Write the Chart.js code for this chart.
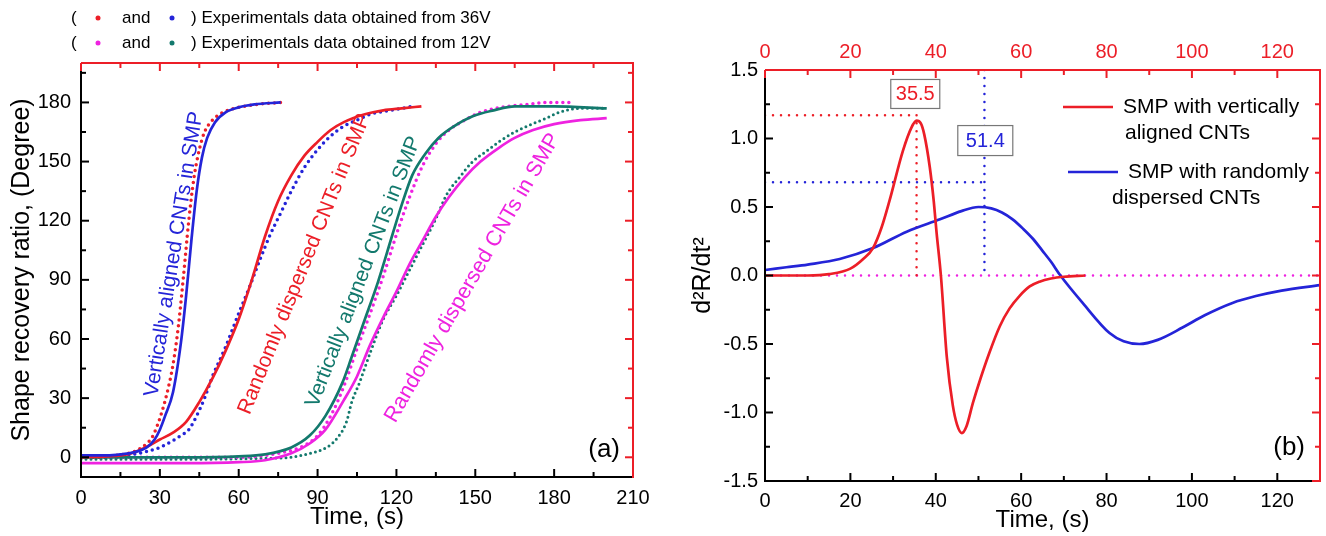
<!DOCTYPE html>
<html>
<head>
<meta charset="utf-8">
<script src="https://cdn.jsdelivr.net/npm/chart.js@4.4.1/dist/chart.umd.min.js"></script>
<style>
  body { margin: 0; background: #fff; }
  #wrap { position: relative; width: 1326px; height: 536px; }
  canvas { position: absolute; top: 0; }
  #chartA { left: 0; }
  #chartB { left: 660px; }
</style>
</head>
<body>
<div id="wrap">
  <canvas id="chartA" width="660" height="536"></canvas>
  <canvas id="chartB" width="666" height="536"></canvas>
</div>
<script>
// ---- data: [time (s), value] ----

// (a) shape recovery ratio, degree
const xTicksA = [0, 30, 60, 90, 120, 150, 180, 210];
const yTicksA = [0, 30, 60, 90, 120, 150, 180];

// 36V, vertically aligned: fit (blue line) and experiment (red dots)
const aligned36Fit = [[0,1],[10,1],[15,1.5],[20,2.5],[25,5],[28,9],[30,14],[32,21],[35,33],[38,58],[40,82],[42,110],[44,135],[46,152],[48,162],[51,170],[55,175],[60,177.5],[66,179],[76,180]];
const aligned36Exp = [[0,0],[10,0.5],[18,2],[22,4],[25,7],[27,10],[29,16],[31,24],[33,34],[35,47],[37,66],[39,92],[41,120],[43,142],[45,156],[47,165],[50,171],[54,175],[60,177.5],[67,179],[76,180]];

// 36V, randomly dispersed: fit (red line) and experiment (blue dots)
const random36Fit = [[0,0],[10,0.5],[17.5,1.5],[22,3.5],[26,6],[30,9],[35,12.5],[40,18],[45,28],[50,40],[55,54],[60,70],[65,90],[70,112],[75,130],[80,143],[85,153],[90,160],[95,166],[100,170],[108,174],[115,176],[122,177],[129.5,178]];
const random36Exp = [[0,0],[10,0],[20,1.5],[25,3],[30,5],[35,8.5],[38,11],[41,14],[44,21],[47,30],[50,41],[55,56],[60,73],[64,86],[68,100],[72,113],[76,124],[80,135],[85,147],[90,156],[95,163],[100,168],[105,171],[110,174],[118,176],[126,178]];

// 12V, vertically aligned: fit (teal line) and experiment (magenta dots)
const aligned12Fit = [[0,0],[20,0],[40,0],[60,0.5],[70,1.5],[80,5],[87,11],[93,21],[99.5,38],[103,51],[108,70],[113,89],[118.5,113],[122,128],[126,143],[131,154],[136,162],[142,168],[149,173],[157,176],[165,178],[180,178],[200,177]];
const aligned12Exp = [[0,0],[40,0],[60,0],[75,2],[85,6],[90,11],[95,21],[100,36],[105,55],[110,73],[115,92],[120,113],[125,132],[130,148],[135,159],[140,166],[146,171],[152,175],[160,177.5],[170,179],[178,180],[186,180]];

// 12V, randomly dispersed: fit (magenta line) and experiment (teal triangles)
const random12Fit = [[0,-3],[20,-3],[40,-3],[60,-2.5],[70,-1.5],[80,2],[87,7],[93,14],[100,29],[105,41],[110,57],[115,71],[120,84],[125,98],[130,110],[135,122],[140,132],[146,142],[152,150],[159,157],[165,162],[172,166],[180,169],[190,171],[200,172]];
const random12Exp = [[0,-1],[40,-1],[70,-0.5],[80,0],[87,2],[92,4],[97,9],[101,18],[103,28],[106,38],[110,53],[115,70],[120,82],[125,95],[130,108],[135,121],[139,133],[144,142],[149,150],[154,155],[159,160],[165,165],[171.6,169],[177,172],[182,175],[190,177],[200,177]];

// (b) second derivative d2R/dt2
const xTicksB = [0, 20, 40, 60, 80, 100, 120];
const yTicksB = [-1.5, -1.0, -0.5, 0, 0.5, 1.0, 1.5];

const alignedD2 = [[0,0],[10,0],[15,0.01],[20,0.05],[23,0.12],[25.3,0.2],[27.3,0.35],[29.2,0.55],[32.3,0.91],[34.3,1.08],[35.5,1.13],[36.5,1.11],[37.3,1.03],[38.6,0.79],[39.5,0.55],[40.2,0.31],[41.2,0],[42.6,-0.6],[44,-0.95],[45,-1.09],[46.1,-1.15],[47.2,-1.1],[48.7,-0.93],[50.5,-0.75],[52.6,-0.56],[55,-0.37],[57.3,-0.24],[59.6,-0.15],[62,-0.08],[64.3,-0.045],[67,-0.022],[70,-0.009],[75,0]];
const randomD2 = [[0,0.04],[5,0.06],[10,0.08],[17.5,0.12],[25.3,0.2],[33.2,0.32],[41,0.41],[46,0.47],[50,0.5],[53,0.49],[55.5,0.46],[58,0.41],[60.5,0.34],[62.7,0.27],[65,0.18],[67,0.1],[69.2,0],[74.4,-0.2],[80.7,-0.42],[84,-0.48],[87.7,-0.5],[92,-0.47],[97.8,-0.38],[103,-0.29],[109.5,-0.2],[115,-0.15],[121,-0.11],[130,-0.07]];

// guide lines marking the peaks
const peakAligned = 35.5, peakAlignedVal = 1.17;
const peakRandom = 51.4, peakRandomVal = 0.68;

// ---- styles ----
const BLUE = '#2424d8';
const RED = '#ec1e27';
const TEAL = '#13796d';
const MAGENTA = '#ee22e0';
const FONT = '"Liberation Sans", Arial, sans-serif';
Chart.defaults.font.family = FONT;

const toXY = pts => pts.map(p => ({ x: p[0], y: p[1] }));

function lineSet(pts, color) {
    return { data: toXY(pts), borderColor: color, borderWidth: 2.7, pointRadius: 0,
             showLine: true, cubicInterpolationMode: 'monotone', fill: false };
}
function dotSet(pts, color, gap, width) {
    return { data: toXY(pts), borderColor: color, borderWidth: width || 3.5, borderDash: [0, gap || 6],
             borderCapStyle: 'round', pointRadius: 0, showLine: true, cubicInterpolationMode: 'monotone', fill: false };
}
function guideSet(pts, color) {
    return { data: toXY(pts), borderColor: color, borderWidth: 2.5, borderDash: [0, 8],
             borderCapStyle: 'round', pointRadius: 0, showLine: true, fill: false };
}

function minorTicks(min, max, step, majors) {
    const out = [];
    for (let v = Math.ceil(min / step) * step; v <= max + 1e-9; v += step) {
        if (!majors.some(m => Math.abs(m - v) < 1e-6)) out.push(v);
    }
    return out;
}

// 축 테두리와 안쪽 눈금
const framePlugin = {
    id: 'frame',
    afterDatasetsDraw(chart, args, o) {
        const { ctx, chartArea: a } = chart;
        const xs = chart.scales.x, ys = chart.scales.y;
        const xMin = minorTicks(xs.min, xs.max, o.xMinorStep, o.xMajor);
        const yMin = minorTicks(ys.min, ys.max, o.yMinorStep, o.yMajor);
        const seg = (x1, y1, x2, y2) => { ctx.beginPath(); ctx.moveTo(x1, y1); ctx.lineTo(x2, y2); ctx.stroke(); };
        ctx.save();
        ctx.lineWidth = 2;
        // bottom / left in black
        ctx.strokeStyle = '#000';
        o.xMajor.forEach(v => { const p = xs.getPixelForValue(v); seg(p, a.bottom, p, a.bottom - 8); });
        xMin.forEach(v => { const p = xs.getPixelForValue(v); seg(p, a.bottom, p, a.bottom - 5); });
        o.yMajor.forEach(v => { const p = ys.getPixelForValue(v); seg(a.left, p, a.left + 8, p); });
        yMin.forEach(v => { const p = ys.getPixelForValue(v); seg(a.left, p, a.left + 5, p); });
        seg(a.left - 1, a.bottom, a.right, a.bottom);
        seg(a.left, a.top, a.left, a.bottom + 1);
        // top / right in red
        ctx.strokeStyle = RED;
        o.xMajor.forEach(v => { const p = xs.getPixelForValue(v); seg(p, a.top, p, a.top + 8); });
        xMin.forEach(v => { const p = xs.getPixelForValue(v); seg(p, a.top, p, a.top + 5); });
        o.yMajor.forEach(v => { const p = ys.getPixelForValue(v); seg(a.right, p, a.right - 8, p); });
        yMin.forEach(v => { const p = ys.getPixelForValue(v); seg(a.right, p, a.right - 5, p); });
        seg(a.left, a.top, a.right + 1, a.top);
        seg(a.right, a.top, a.right, a.bottom + 1);
        ctx.restore();
    }
};

function hiddenAxis(position, min, max, size) {
    return {
        type: 'linear', position: position, min: min, max: max,
        grid: { display: false }, border: { display: false },
        ticks: { display: false },
        afterFit: sc => { if (sc.isHorizontal()) sc.height = size; else sc.width = size; }
    };
}

// ---------------- chart (a) ----------------
const notesA = [
    { text: 'Vertically aligned CNTs in SMP', color: BLUE, size: 21, x: 35.4, y: 103, angle: -81 },
    { text: 'Randomly dispersed CNTs in SMP', color: RED, size: 21, x: 85, y: 98, angle: -68 },
    { text: 'Vertically aligned CNTs in SMP', color: TEAL, size: 21, x: 107.5, y: 94, angle: -69 },
    { text: 'Randomly dispersed CNTs in SMP', color: MAGENTA, size: 21.5, x: 149, y: 91, angle: -60 }
];
const headerRows = [
    { y: 18, c1: RED, c2: BLUE, text: ') Experimentals data obtained from 36V' },
    { y: 43, c1: MAGENTA, c2: TEAL, text: ') Experimentals data obtained from 12V' }
];

const notesPluginA = {
    id: 'notesA',
    afterDraw(chart) {
        const { ctx, chartArea: a } = chart;
        const xs = chart.scales.x, ys = chart.scales.y;
        ctx.save();
        ctx.textBaseline = 'middle';
        ctx.textAlign = 'center';
        notesA.forEach(n => {
            ctx.save();
            ctx.font = n.size + 'px ' + FONT;
            ctx.translate(xs.getPixelForValue(n.x), ys.getPixelForValue(n.y));
            ctx.rotate(n.angle * Math.PI / 180);
            ctx.fillStyle = n.color;
            ctx.fillText(n.text, 0, 0);
            ctx.restore();
        });
        ctx.font = '17px ' + FONT;
        ctx.textAlign = 'left';
        headerRows.forEach(r => {
            ctx.fillStyle = '#000';
            ctx.fillText('(', 71, r.y);
            ctx.fillText('and', 122, r.y);
            ctx.fillText(r.text, 191, r.y);
            [[98, r.c1], [172, r.c2]].forEach(d => {
                ctx.fillStyle = d[1];
                ctx.beginPath();
                ctx.arc(d[0], r.y, 2.5, 0, Math.PI * 2);
                ctx.fill();
            });
        });
        ctx.fillStyle = '#000';
        ctx.font = '26px ' + FONT;
        ctx.textAlign = 'right';
        ctx.fillText('(a)', a.right - 13, a.bottom - 27);
        ctx.restore();
    }
};

new Chart(document.getElementById('chartA'), {
    type: 'scatter',
    data: {
        datasets: [
            lineSet(aligned36Fit, BLUE),
            lineSet(random36Fit, RED),
            lineSet(aligned12Fit, TEAL),
            lineSet(random12Fit, MAGENTA),
            dotSet(aligned36Exp, RED),
            dotSet(random36Exp, BLUE),
            dotSet(aligned12Exp, MAGENTA),
            dotSet(random12Exp, TEAL, 5, 3)
        ]
    },
    options: {
        responsive: false,
        animation: false,
        devicePixelRatio: 1,
        events: [],
        layout: { padding: 0 },
        plugins: {
            legend: { display: false },
            tooltip: { enabled: false },
            frame: { xMajor: xTicksA, yMajor: yTicksA, xMinorStep: 15, yMinorStep: 15 }
        },
        scales: {
            x: {
                type: 'linear', position: 'bottom', min: 0, max: 210,
                grid: { display: false, drawTicks: false }, border: { display: false },
                afterBuildTicks: sc => { sc.ticks = xTicksA.map(v => ({ value: v })); },
                ticks: { color: '#000', font: { size: 20 }, padding: 9, maxRotation: 0, autoSkip: false },
                title: { display: true, text: 'Time, (s)', color: '#000', font: { size: 24 }, padding: { top: 0, bottom: 4 } },
                afterFit: sc => { sc.height = 59; }
            },
            xTop: hiddenAxis('top', 0, 210, 63),
            y: {
                type: 'linear', position: 'left', min: -10, max: 200,
                grid: { display: false, drawTicks: false }, border: { display: false },
                afterBuildTicks: sc => { sc.ticks = yTicksA.map(v => ({ value: v })); },
                ticks: { color: '#000', font: { size: 20 }, padding: 10, autoSkip: false },
                title: { display: true, text: 'Shape recovery ratio, (Degree)', color: '#000', font: { size: 25 }, padding: { top: 7, bottom: 0 } },
                afterFit: sc => { sc.width = 81; }
            },
            yRight: hiddenAxis('right', -10, 200, 27)
        }
    },
    plugins: [framePlugin, notesPluginA]
});

// ---------------- chart (b) ----------------
const legendB = [
    { color: RED, x1: 403, x2: 453, y: 107, lines: [['SMP with vertically', 463, 107], ['aligned CNTs', 465, 133]] },
    { color: BLUE, x1: 408, x2: 458, y: 172, lines: [['SMP with randomly', 468, 172], ['dispersed CNTs', 452, 198]] }
];
const boxesB = [
    { text: String(peakAligned), color: RED, x: 35.2, y: 1.325, w: 49, h: 29 },
    { text: String(peakRandom), color: BLUE, x: 51.6, y: 0.985, w: 55, h: 30 }
];

const notesPluginB = {
    id: 'notesB',
    afterDatasetsDraw(chart) {
        const { ctx, chartArea: a } = chart;
        const xs = chart.scales.x, ys = chart.scales.y;
        ctx.save();
        ctx.textBaseline = 'middle';
        ctx.textAlign = 'center';
        ctx.font = '20px ' + FONT;
        boxesB.forEach(b => {
            const cx = xs.getPixelForValue(b.x), cy = ys.getPixelForValue(b.y);
            ctx.fillStyle = '#fff';
            ctx.fillRect(cx - b.w / 2, cy - b.h / 2, b.w, b.h);
            ctx.strokeStyle = '#777';
            ctx.lineWidth = 1.2;
            ctx.strokeRect(cx - b.w / 2, cy - b.h / 2, b.w, b.h);
            ctx.fillStyle = b.color;
            ctx.fillText(b.text, cx, cy + 1);
        });
        ctx.textAlign = 'left';
        ctx.font = '21px ' + FONT;
        legendB.forEach(l => {
            ctx.strokeStyle = l.color;
            ctx.lineWidth = 2.7;
            ctx.beginPath(); ctx.moveTo(l.x1, l.y); ctx.lineTo(l.x2, l.y); ctx.stroke();
            ctx.fillStyle = '#000';
            l.lines.forEach(t => ctx.fillText(t[0], t[1], t[2]));
        });
        ctx.font = '26px ' + FONT;
        ctx.textAlign = 'right';
        ctx.fillText('(b)', a.right - 15, a.bottom - 33);
        ctx.restore();
    }
};

new Chart(document.getElementById('chartB'), {
    type: 'scatter',
    data: {
        datasets: [
            lineSet(alignedD2, RED),
            lineSet(randomD2, BLUE),
            guideSet([[0, peakAlignedVal], [peakAligned, peakAlignedVal]], RED),
            guideSet([[peakAligned, peakAlignedVal], [peakAligned, 0]], RED),
            guideSet([[0, peakRandomVal], [peakRandom, peakRandomVal]], BLUE),
            guideSet([[peakRandom, 1.5], [peakRandom, 0]], BLUE),
            guideSet([[0, 0], [130, 0]], MAGENTA)
        ]
    },
    options: {
        responsive: false,
        animation: false,
        devicePixelRatio: 1,
        events: [],
        layout: { padding: 0 },
        plugins: {
            legend: { display: false },
            tooltip: { enabled: false },
            frame: { xMajor: xTicksB, yMajor: yTicksB, xMinorStep: 10, yMinorStep: 0.25 }
        },
        scales: {
            x: {
                type: 'linear', position: 'bottom', min: 0, max: 130,
                grid: { display: false, drawTicks: false }, border: { display: false },
                afterBuildTicks: sc => { sc.ticks = xTicksB.map(v => ({ value: v })); },
                ticks: { color: '#000', font: { size: 20 }, padding: 8, maxRotation: 0, autoSkip: false },
                title: { display: true, text: 'Time, (s)', color: '#000', font: { size: 24 }, padding: { top: 0, bottom: 1 } },
                afterFit: sc => { sc.height = 55; }
            },
            xTop: {
                type: 'linear', position: 'top', min: 0, max: 130,
                grid: { display: false, drawTicks: false }, border: { display: false },
                afterBuildTicks: sc => { sc.ticks = xTicksB.map(v => ({ value: v })); },
                ticks: { color: RED, font: { size: 20 }, padding: 6, maxRotation: 0, autoSkip: false },
                afterFit: sc => { sc.height = 70; }
            },
            y: {
                type: 'linear', position: 'left', min: -1.5, max: 1.5,
                grid: { display: false, drawTicks: false }, border: { display: false },
                afterBuildTicks: sc => { sc.ticks = yTicksB.map(v => ({ value: v })); },
                ticks: { color: '#000', font: { size: 20 }, padding: 7, autoSkip: false, callback: v => v.toFixed(1) },
                title: { display: true, text: 'd²R/dt²', color: '#000', font: { size: 25 }, padding: { top: 28, bottom: 0 } },
                afterFit: sc => { sc.width = 105; }
            },
            yRight: hiddenAxis('right', -1.5, 1.5, 6)
        }
    },
    plugins: [framePlugin, notesPluginB]
});
</script>
</body>
</html>
